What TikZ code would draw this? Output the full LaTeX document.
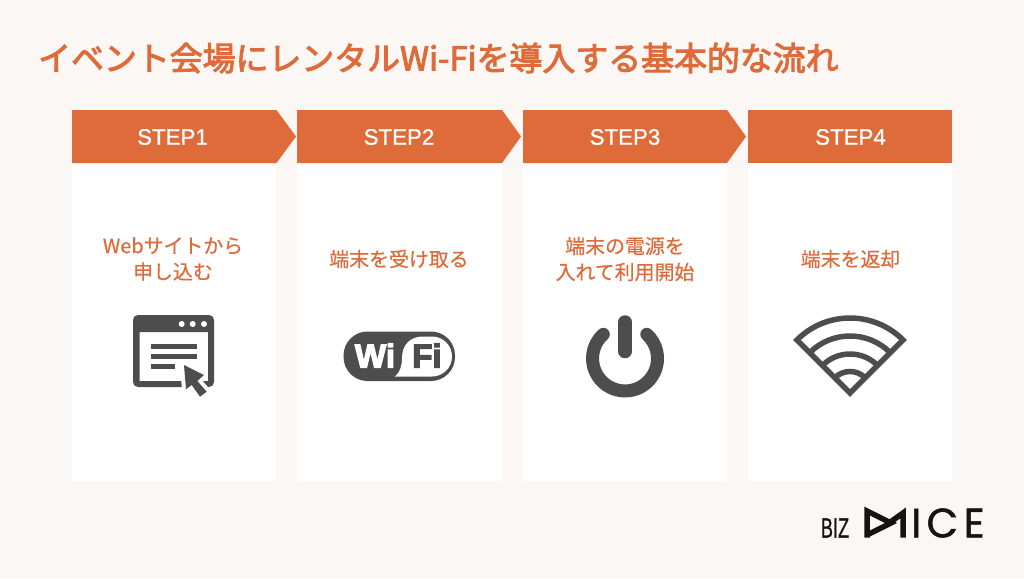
\documentclass[tikz,border=0pt]{standalone}
\usepackage{fontspec}
\setmainfont{Noto Sans CJK JP}
\newfontfamily\titlefont[FakeBold=3]{Noto Sans CJK JP}
\newfontfamily\taskfont[FakeBold=0.5]{Noto Sans CJK JP}
\newfontfamily\stepfont[FakeBold=1]{Liberation Sans}
\newfontfamily\wifont[FakeBold=4]{Liberation Sans Bold}
\newfontfamily\bizfont[FakeBold=1]{Liberation Sans}
\newfontfamily\logofont[FakeBold=1.2, LetterSpace=13]{Poppins}
\usetikzlibrary{calc}
\definecolor{bizorange}{HTML}{E06B3A}
\definecolor{bizpaper}{HTML}{FBF7F4}
\definecolor{bizgray}{HTML}{4D4D4D}
\definecolor{bizblack}{HTML}{141414}

\begin{document}
\begin{tikzpicture}[x=1pt, y=1pt,
  panel/.style={fill=white},
  header/.style={fill=bizorange},
  steplabel/.style={text=white, font=\stepfont\fontsize{22.3}{24}\selectfont},
  tasklabel/.style={text=bizorange, align=center, inner sep=0, font=\taskfont\fontsize{19.9}{26}\selectfont},
  icon/.style={fill=bizgray},
  ring/.style={draw=bizgray, line width=5.5, line join=miter}]
\useasboundingbox (0, 0) rectangle (1024, -578);
\fill[bizpaper] (0, 0) rectangle (1024, -578);
\node[text=bizorange, anchor=west, inner sep=0, font=\titlefont\fontsize{32.9}{36}\selectfont] at (38, -58) (title) {イベント会場にレンタルWi-Fiを導入する基本的な流れ};

\fill[panel] (72, -163) rectangle (276, -481);
\fill[panel] (297, -163) rectangle (502, -481);
\fill[panel] (523, -163) rectangle (727, -481);
\fill[panel] (748, -163) rectangle (952, -481);
\fill[header] (72, -110) -- (276.5, -110) -- (296, -136.5) -- (276.5, -163) -- (72, -163) -- cycle;
\fill[header] (297, -110) -- (502, -110) -- (521, -136.5) -- (502, -163) -- (297, -163) -- cycle;
\fill[header] (523, -110) -- (727, -110) -- (746, -136.5) -- (727, -163) -- (523, -163) -- cycle;
\fill[header] (748, -110) rectangle (952, -163);

\node[steplabel] at (172.5, -137) (step1) {STEP1};
\node[steplabel] at (399, -137) (step2) {STEP2};
\node[steplabel] at (625, -137) (step3) {STEP3};
\node[steplabel] at (850.5, -137) (step4) {STEP4};

\node[tasklabel] at (173, -259) (task1) {Webサイトから\\申し込む};
\node[tasklabel] at (399, -259) (task2) {端末を受け取る};
\node[tasklabel] at (625, -259) (task3) {端末の電源を\\入れて利用開始};
\node[tasklabel] at (850.5, -259) (task4) {端末を返却};

\fill[icon, even odd rule, rounded corners=5] (133, -315) rectangle (214, -387)
  [sharp corners] (139.5, -332) rectangle (208, -381);
\fill[white] (181.7, -324) circle (3);
\fill[white] (192.7, -324) circle (3);
\fill[white] (204, -324) circle (3);
\fill[icon] (151, -343.5) rectangle (197, -348.5);
\fill[icon] (151, -353.5) rectangle (197, -358.5);
\fill[icon] (151, -363.5) rectangle (175, -368.5);
\fill[icon, preaction={draw=white, line width=8, line join=round}] (184, -365) -- (204, -375) -- (197.3, -381) -- (206.7, -391.7) -- (200, -396.7) -- (191.7, -385) -- (186, -389.3) -- cycle;

\fill[icon, rounded corners=24] (343.5, -331.5) rectangle (455, -381);
\fill[white] (395, -376.5) .. controls (400, -372) and (402, -366) .. (402, -358)
  .. controls (402, -345) and (410, -336.5) .. (423, -336.5) -- (432, -336.5)
  arc (90:0:20) arc (0:-90:20) -- cycle;
\node[text=white, inner sep=0, font=\wifont\fontsize{33}{33}\selectfont] at (375, -355.5) (wi) {Wi};
\node[text=bizgray, inner sep=0, font=\wifont\fontsize{33}{33}\selectfont] at (427, -355.5) (fi) {Fi};

\draw[draw=bizgray, line width=13, line cap=round] (603.3, -334.3) arc (132:408:32.5);
\draw[draw=bizgray, line width=13.5, line cap=round] (625, -322) -- (625, -351.5);

\draw[ring] (850, -393) -- ++(135:75) arc (135:45:75) -- cycle;
\draw[ring] (850, -393) ++(135:57) arc (135:45:57);
\draw[ring] (850, -393) ++(135:39) arc (135:45:39);
\draw[ring] (850, -393) ++(135:21.5) arc (135:45:21.5);

\node[text=bizblack, inner sep=0, xscale=.65, font=\bizfont\fontsize{28}{28}\selectfont] at (835, -528) (biz) {BIZ};
\draw[bizblack, line width=5.5, line join=miter] (867, -537.5) -- (867, -511) -- (891, -523) -- (867, -535);
\draw[bizblack, line width=5.5, line join=miter] (889, -523) -- (903, -513) -- (903, -537.5);
\node[text=bizblack, anchor=west, inner sep=0, font=\logofont\fontsize{41}{41}\selectfont] at (911, -523) (ice) {ICE};
\end{tikzpicture}
\end{document}
